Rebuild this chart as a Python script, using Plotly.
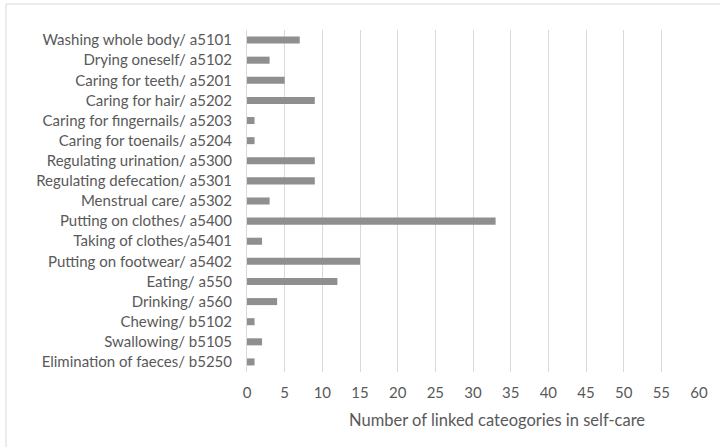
import plotly.graph_objects as go

categories = [
    "Washing whole body/ a5101",
    "Drying oneself/ a5102",
    "Caring for teeth/ a5201",
    "Caring for hair/ a5202",
    "Caring for fingernails/ a5203",
    "Caring for toenails/ a5204",
    "Regulating urination/ a5300",
    "Regulating defecation/ a5301",
    "Menstrual care/ a5302",
    "Putting on clothes/ a5400",
    "Taking of clothes/a5401",
    "Putting on footwear/ a5402",
    "Eating/ a550",
    "Drinking/ a560",
    "Chewing/ b5102",
    "Swallowing/ b5105",
    "Elimination of faeces/ b5250",
]
values = [7, 3, 5, 9, 1, 1, 9, 9, 3, 33, 2, 15, 12, 4, 1, 2, 1]
x_ticks = list(range(0, 61, 5))
x_title = "Number of linked cateogories in self-care"

fig = go.Figure(go.Bar(
    y=categories, x=values, orientation="h",
    marker=dict(color="#8f8f8f", line=dict(width=0)),
))

txt = "#595959"
fig.update_layout(
    width=720, height=447,
    margin=dict(l=247, r=21, t=30, b=75),
    paper_bgcolor="white", plot_bgcolor="white",
    font=dict(family="Lato", size=13, color=txt),
    bargap=0.65,
    showlegend=False,
    xaxis=dict(
        range=[0, 60], tickvals=x_ticks, showgrid=True, gridcolor="#d9d9d9",
        gridwidth=1, zeroline=False, showline=False,
        tickfont=dict(size=15, color=txt),
        ticklabelstandoff=10,
    ),
    yaxis=dict(
        autorange="reversed", showgrid=False, zeroline=False,
        showline=True, linecolor="#d9d9d9", linewidth=1,
        tickfont=dict(size=15, color=txt), ticklabelstandoff=11,
    ),
    annotations=[
        dict(text=x_title, xref="paper", yref="paper",
             x=(497 - 247) / 452, y=-(420 - 372) / 342,
             xanchor="center", yanchor="middle", showarrow=False,
             font=dict(size=16.5, color=txt)),
    ],
    shapes=[
        dict(type="line", xref="paper", yref="paper",
             x0=(6 - 247) / 452, x1=(6 - 247) / 452,
             y0=-0.3, y1=1 + (30 - 4) / 342,
             line=dict(color="#d9d9d9", width=1)),
        dict(type="line", xref="paper", yref="paper",
             x0=(6 - 247) / 452, x1=1.2,
             y0=1 + (30 - 4) / 342, y1=1 + (30 - 4) / 342,
             line=dict(color="#d9d9d9", width=1)),
    ],
)

fig.write_html("out.html")
